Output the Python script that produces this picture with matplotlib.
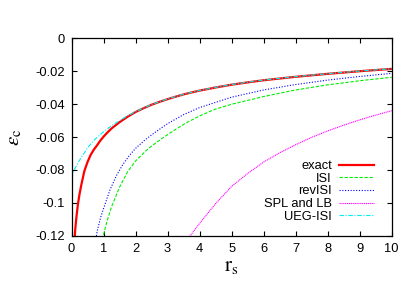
import matplotlib
matplotlib.use("Agg")
import matplotlib.pyplot as plt

plt.rcParams['font.family'] = ['Liberation Sans', 'DejaVu Sans']
plt.rcParams['mathtext.fontset'] = 'stix'

# exact (PW92-like) correlation energy
rs_exact = [0.1, 0.12, 0.15, 0.2, 0.25, 0.3, 0.4, 0.5, 0.6, 0.7, 0.8, 0.9,
            1.0, 1.1, 1.25, 1.5, 1.75, 2.0, 2.25, 2.5, 2.75, 3.0, 3.25, 3.5,
            3.75, 4.0, 4.5, 5.0, 5.5, 6.0, 7.0, 8.0, 9.0, 10.0]
ec_exact = [-0.1212, -0.1155, -0.1093, -0.1009, -0.0948, -0.0897, -0.0808,
            -0.0752, -0.0708, -0.0676, -0.0650, -0.0622, -0.0598, -0.0577,
            -0.0548, -0.0510, -0.0477, -0.0448, -0.0425, -0.0404, -0.0386,
            -0.0370, -0.0355, -0.0341, -0.0329, -0.0318, -0.0299, -0.0282,
            -0.0268, -0.0255, -0.0234, -0.0216, -0.0200, -0.0186]

rs_isi = [1.0, 1.1, 1.25, 1.5, 1.75, 2.0, 2.4, 2.8, 3.2, 3.6, 4.0, 4.5, 5.0,
          6.0, 7.0, 8.0, 9.0, 10.0]
ec_isi = [-0.1195, -0.1118, -0.1024, -0.0905, -0.0812, -0.0746, -0.0670,
          -0.0612, -0.0560, -0.0512, -0.0472, -0.0430, -0.0401, -0.0354,
          -0.0314, -0.0283, -0.0258, -0.0237]

rs_rev = [0.75, 0.8, 0.9, 1.0, 1.2, 1.4, 1.6, 1.8, 2.0, 2.3, 2.6, 3.0, 3.5,
          4.0, 5.0, 6.0, 7.0, 8.0, 9.0, 10.0]
ec_rev = [-0.1235, -0.1175, -0.1095, -0.1035, -0.0922, -0.0836, -0.0768,
          -0.0714, -0.0669, -0.0617, -0.0573, -0.0519, -0.0464, -0.0421,
          -0.0358, -0.0314, -0.0281, -0.0254, -0.0232, -0.0213]

rs_spl = [3.65, 4.0, 4.5, 5.0, 5.5, 6.0, 6.5, 7.0, 7.5, 8.0, 8.5, 9.0, 9.5, 10.0]
ec_spl = [-0.1215, -0.1125, -0.1005, -0.0900, -0.0822, -0.0752, -0.0696,
          -0.0647, -0.0602, -0.0563, -0.0528, -0.0496, -0.0467, -0.0440]

rs_ueg = [0.0, 0.05, 0.1, 0.2, 0.3, 0.4, 0.5, 0.75, 1.0, 1.25, 1.5, 1.75,
          2.0, 2.25, 2.5, 2.75, 3.0, 3.5, 4.0, 4.5, 5.0, 5.5, 6.0, 7.0, 8.0,
          9.0, 10.0]
ec_ueg = [-0.0851, -0.0818, -0.0795, -0.0758, -0.0725, -0.0697, -0.0665,
          -0.0611, -0.0568, -0.0532, -0.0500, -0.0471, -0.0446, -0.0424,
          -0.0403, -0.0385, -0.0369, -0.0340, -0.0317, -0.0298, -0.0281,
          -0.0267, -0.0254, -0.0233, -0.0215, -0.0199, -0.0185]

xticks = list(range(11))
yticks = [0, -0.02, -0.04, -0.06, -0.08, -0.1, -0.12]
ytick_labels = ["0", "-0.02", "-0.04", "-0.06", "-0.08", "-0.1", "-0.12"]

fig = plt.figure(figsize=(4.15, 2.91), dpi=100)
ax = fig.add_axes([0.1723, 0.190, 0.9439 - 0.1723, 0.8684 - 0.190])

ax.plot(rs_exact, ec_exact, color='#ff0000', lw=1.6, label='exact')
ax.plot(rs_isi, ec_isi, color='#00ee00', lw=0.8, dashes=(3, 1.5), label='ISI')
ax.plot(rs_rev, ec_rev, color='#0000ff', lw=0.8, dashes=(1, 1.5), label='revISI')
ax.plot(rs_spl, ec_spl, color='#ff00ff', lw=0.8, dashes=(1, 0.7), label='SPL and LB')
ax.plot(rs_ueg, ec_ueg, color='#00eeee', lw=0.8, dashes=(4, 1.5, 1, 1.5), label='UEG-ISI')

ax.set_xlim(0, 10)
ax.set_ylim(-0.12, 0)
ax.set_xticks(xticks)
ax.set_yticks(yticks)
ax.set_yticklabels(ytick_labels)
ax.tick_params(direction='in', top=True, right=True, length=3.5, width=0.8,
               labelsize=9.3, pad=5)
for s in ax.spines.values():
    s.set_linewidth(0.9)

ax.set_xlabel(r'$\mathrm{r_s}$', fontsize=15, labelpad=2)
ax.set_ylabel(r'$\varepsilon_\mathrm{c}$', fontsize=15, labelpad=8)

ax.legend(loc='lower right', bbox_to_anchor=(0.985, 0.0), frameon=False,
          markerfirst=False, fontsize=9.3, labelspacing=0.05,
          handlelength=2.7, handletextpad=0.57, borderaxespad=0.6)

fig.savefig('out.png', dpi=100)
